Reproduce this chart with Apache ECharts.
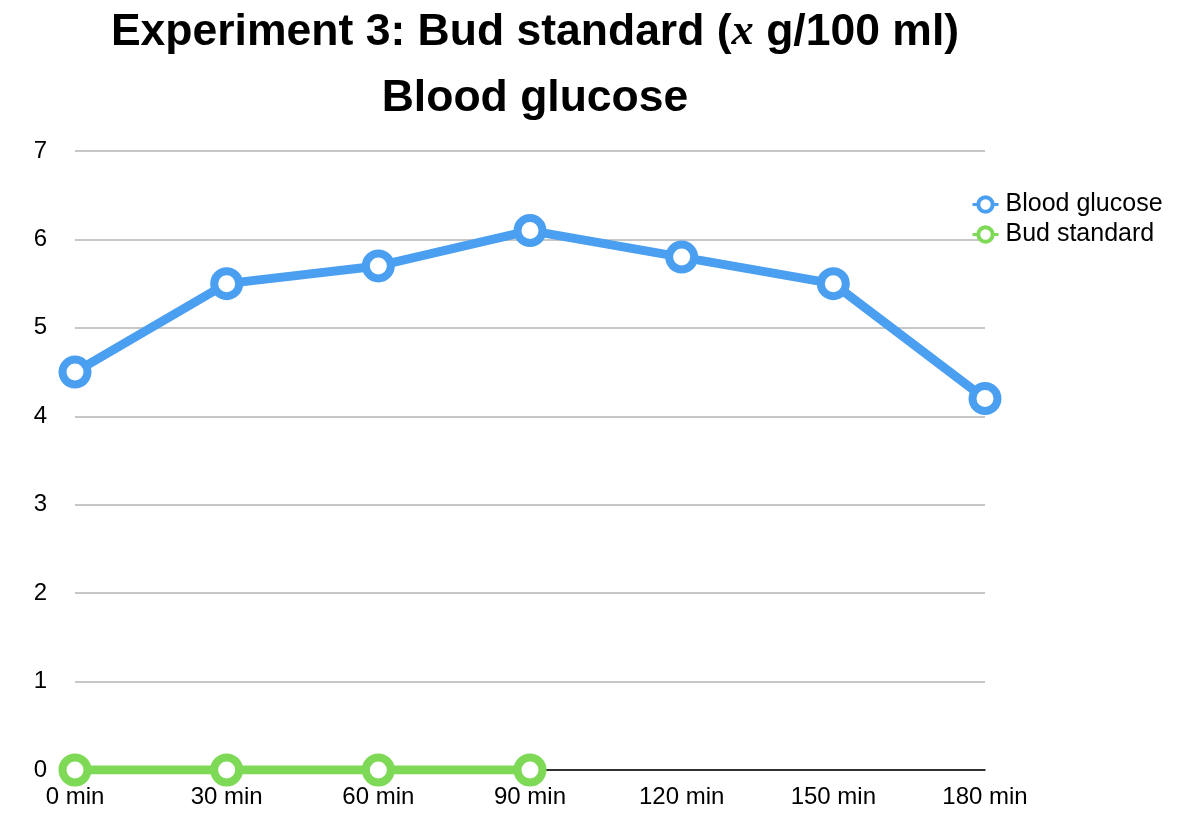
<!DOCTYPE html>
<html>
<head>
<meta charset="utf-8">
<script src="https://cdn.jsdelivr.net/npm/echarts@6/dist/echarts.min.js"></script>
<style>html,body{margin:0;padding:0;background:#fff}#c{width:1200px;height:831px}</style>
</head>
<body>
<div id="c"></div>
<script>
const categories = ['0 min', '30 min', '60 min', '90 min', '120 min', '150 min', '180 min'];
const bloodGlucose = [4.5, 5.5, 5.7, 6.1, 5.8, 5.5, 4.2];
const budStandard = [0, 0, 0, 0, null, null, null];
const seriesNames = ['Blood glucose', 'Bud standard'];

const chart = echarts.init(document.getElementById('c'));
const font = '"Liberation Sans", Arial, Helvetica, sans-serif';
const mk = (name, data, color) => ({
  name, type: 'line', data,
  symbol: 'circle', symbolSize: 25, showAllSymbol: true,
  lineStyle: { color, width: 9 },
  itemStyle: { color: '#fff', borderColor: color, borderWidth: 8 },
  connectNulls: false, animation: false, z: 3
});
chart.setOption({
  animation: false,
  textStyle: { fontFamily: font },
  title: [
    {
      left: 530, top: 5, textAlign: 'center',
      text: '{b|Experiment 3: Bud standard (}{i|x}{b| g/100 ml)}',
      textStyle: {
        rich: {
          b: { fontFamily: font, fontWeight: 'bold', fontSize: 44.5, color: '#000' },
          i: { fontFamily: '"Liberation Serif", "DejaVu Serif", serif', fontStyle: 'italic', fontSize: 44.5, color: '#000' }
        }
      }
    },
    {
      left: 530, top: 71, textAlign: 'center',
      text: 'Blood glucose',
      textStyle: { fontFamily: font, fontWeight: 'bold', fontSize: 44.5, color: '#000' }
    }
  ],
  legend: {
    orient: 'vertical', left: 966, top: 187,
    itemWidth: 26, itemHeight: 18, itemGap: 5,
    data: seriesNames,
    itemStyle: { borderWidth: 4 },
    lineStyle: { width: 3 },
    textStyle: { fontFamily: font, fontSize: 25, color: '#000', padding: [0, 0, 0, 2] }
  },
  grid: { left: 75, right: 215, top: 151, bottom: 61, containLabel: false },
  xAxis: {
    type: 'category', data: categories, boundaryGap: false,
    axisLine: { show: true, lineStyle: { color: '#000', width: 1.5 } },
    axisTick: { show: false },
    axisLabel: { fontFamily: font, fontSize: 24, color: '#000', margin: 15, interval: 0 },
    splitLine: { show: false }
  },
  yAxis: {
    type: 'value', min: 0, max: 7, interval: 1,
    axisLine: { show: false }, axisTick: { show: false },
    axisLabel: { fontFamily: font, fontSize: 24, color: '#000', margin: 28 },
    splitLine: { show: true, lineStyle: { color: '#b4b4b4', width: 1.5 } }
  },
  series: [
    mk(seriesNames[0], bloodGlucose, '#4a9ff0'),
    mk(seriesNames[1], budStandard, '#7ed957')
  ]
});
</script>
</body>
</html>
